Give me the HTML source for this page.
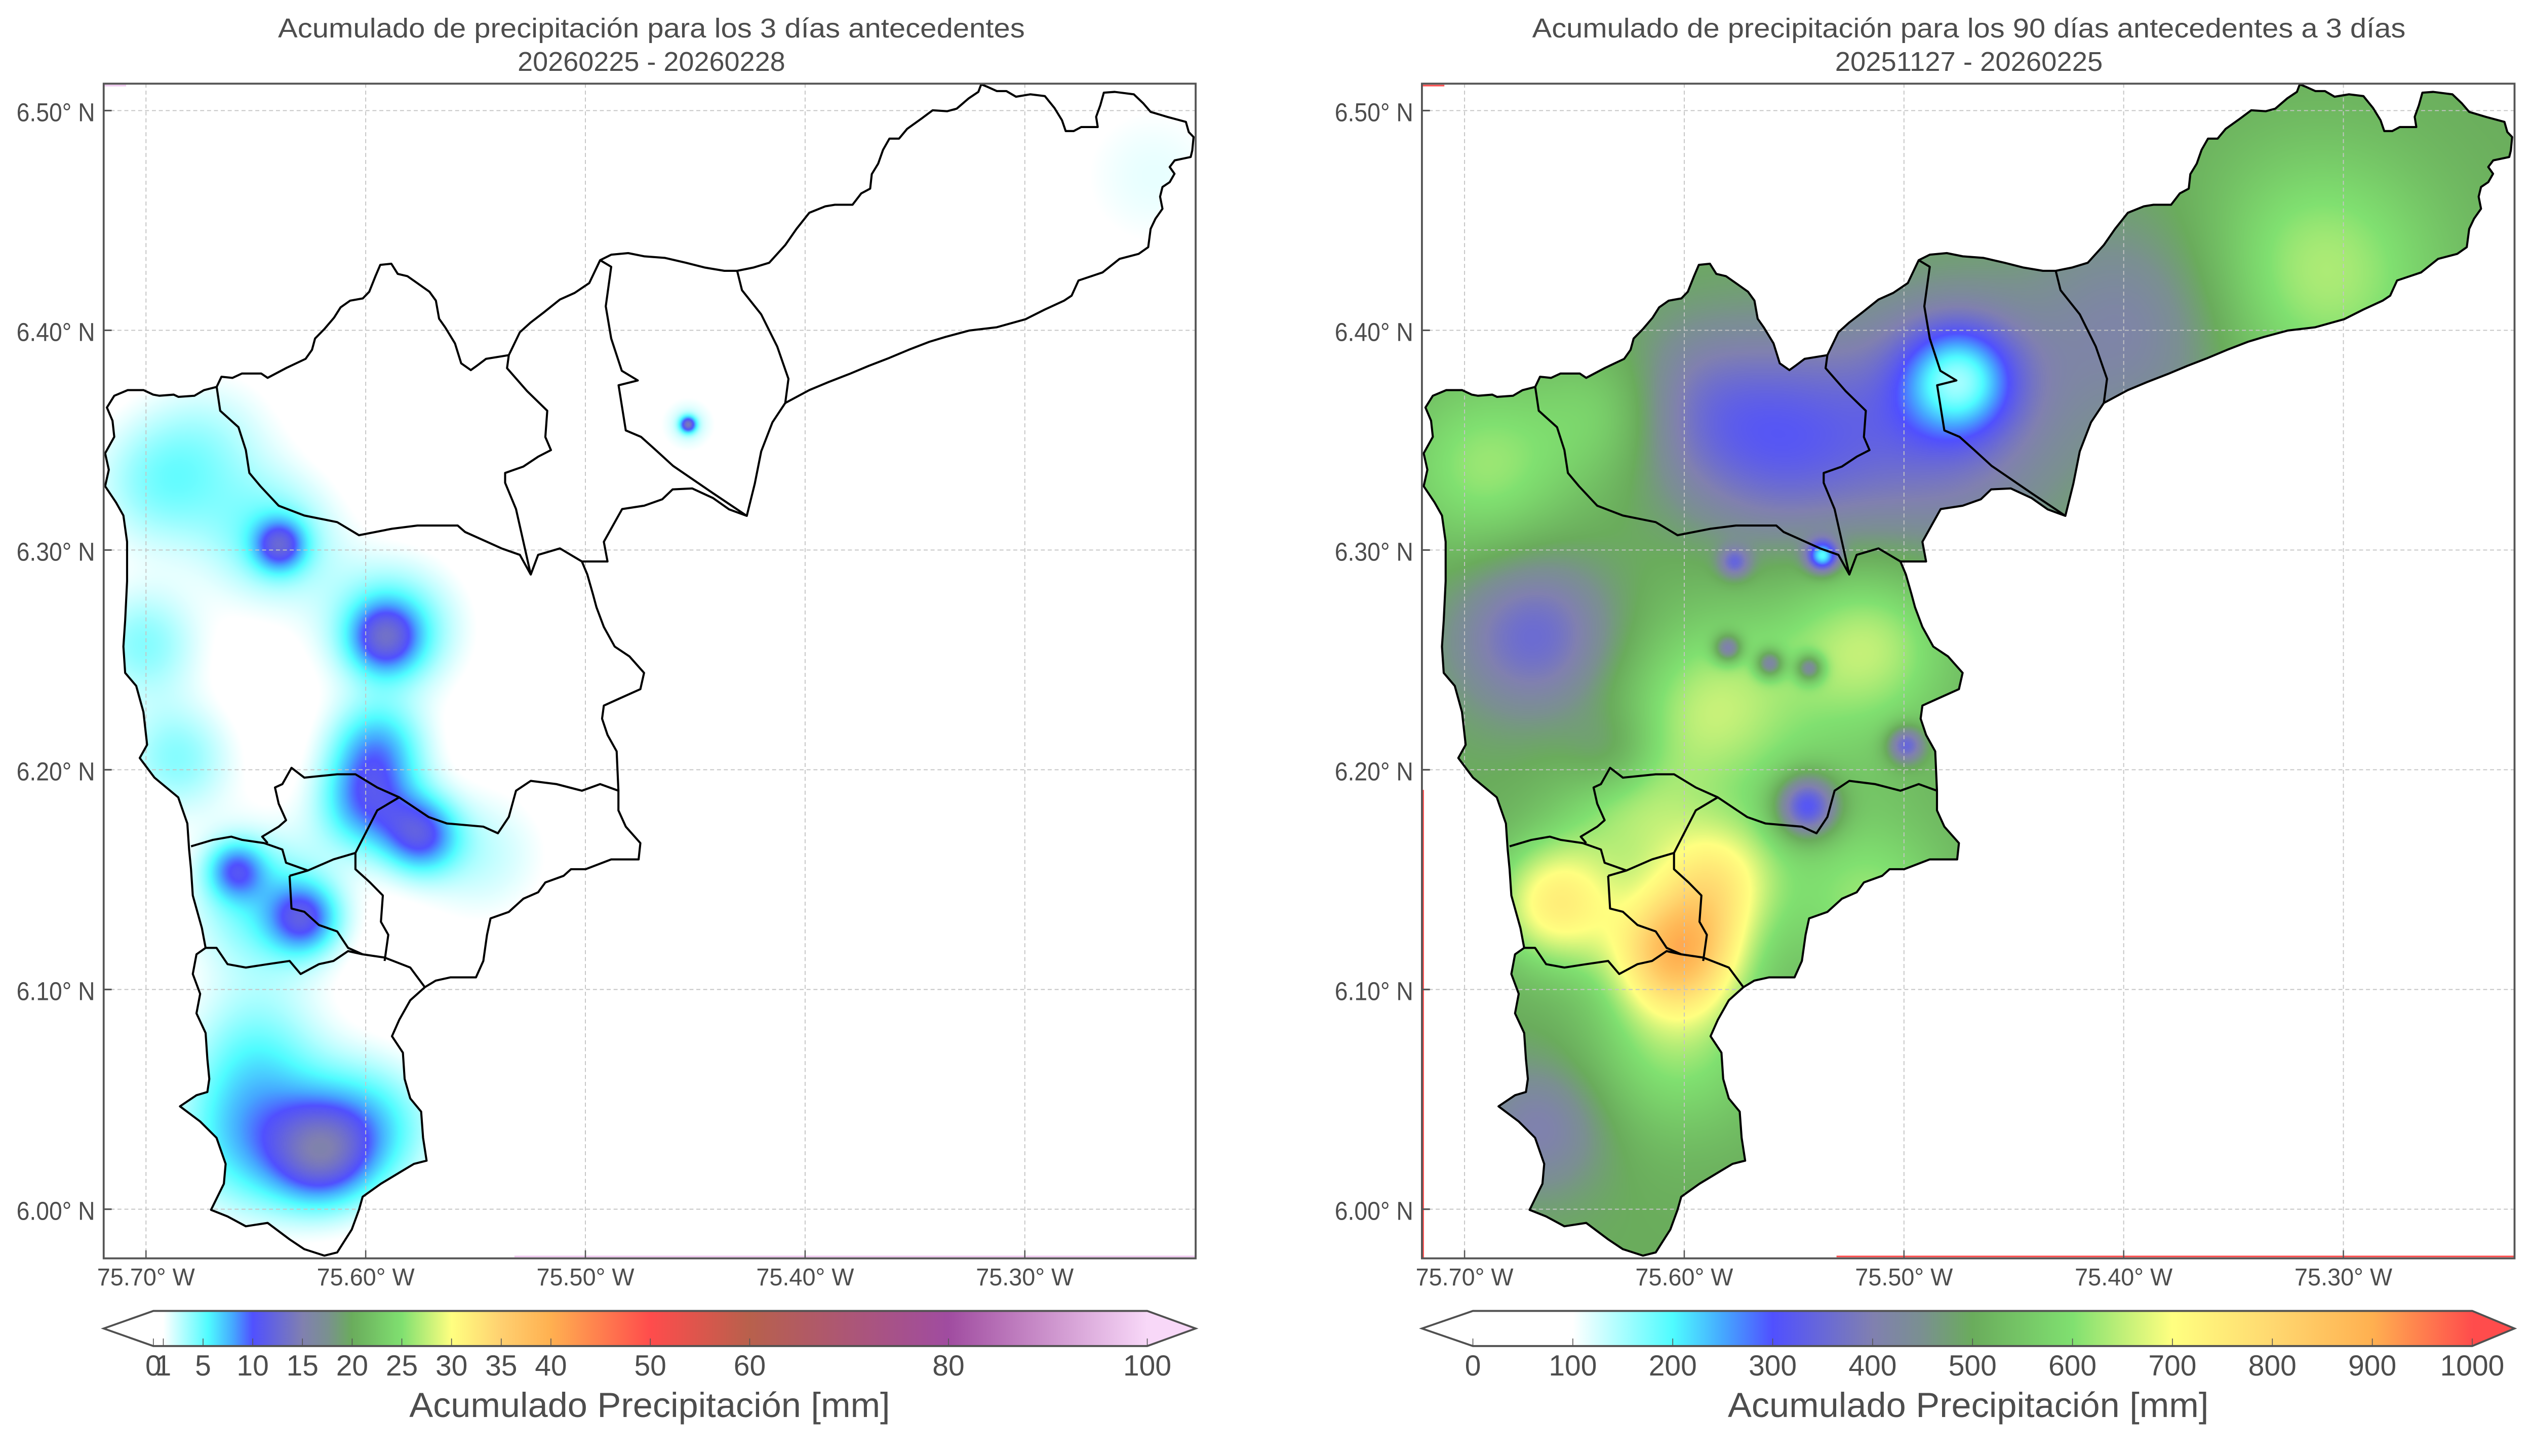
<!DOCTYPE html>
<html><head><meta charset="utf-8">
<style>
html,body{margin:0;padding:0;background:#fff}
#fig{position:relative;width:5044px;height:2876px;background:#fff;overflow:hidden}
#cv,#sv{position:absolute;left:0;top:0}
text{font-family:"Liberation Sans",sans-serif;fill:#4d4d4d}
</style></head>
<body>
<div id="fig">
<canvas id="cv" width="5044" height="2876"></canvas>
<svg id="sv" width="5044" height="2876" viewBox="0 0 1593.9 903.2" preserveAspectRatio="none">
<text x="406.5" y="23.3" font-size="17" text-anchor="middle" textLength="466" lengthAdjust="spacingAndGlyphs">Acumulado de precipitación para los 3 días antecedentes</text>
<text x="406.5" y="44" font-size="17" text-anchor="middle" textLength="167" lengthAdjust="spacingAndGlyphs">20260225 - 20260228</text>
<text x="1228.6" y="23.3" font-size="17" text-anchor="middle" textLength="545" lengthAdjust="spacingAndGlyphs">Acumulado de precipitación para los 90 días antecedentes a 3 días</text>
<text x="1228.6" y="44" font-size="17" text-anchor="middle" textLength="167" lengthAdjust="spacingAndGlyphs">20251127 - 20260225</text>
<g id="layer"></g>
</svg>
</div>
<script>
// ---------- data ----------
const lonTicks = [75.70, 75.60, 75.50, 75.40, 75.30];
const latTicks = [6.00, 6.10, 6.20, 6.30, 6.40, 6.50];

// 3-day accumulation blobs (lon W, lat N, mm peak, sigma deg)
const rain3Lon = [75.241, 75.453, 75.453, 75.693, 75.701, 75.686, 75.639, 75.642, 75.591, 75.588, 75.595, 75.599, 75.575, 75.659, 75.628, 75.646, 75.620, 75.650, 75.599, 75.650, 75.548, 75.668];
const rain3Lat = [6.470, 6.357, 6.357, 6.330, 6.257, 6.205, 6.302, 6.305, 6.260, 6.264, 6.209, 6.184, 6.170, 6.154, 6.132, 6.139, 6.024, 6.033, 6.037, 6.073, 6.161, 6.352];
const rain3Amp = [1.6, 12, 2.5, 4, 4, 4, 8, 4.5, 8, 5.5, 7, 8, 9, 7, 8, 5, 9, 7, 6, 3.5, 2.5, 2];
const rain3Sig = [0.030, 0.0025, 0.009, 0.022, 0.018, 0.018, 0.008, 0.021, 0.011, 0.021, 0.015, 0.015, 0.012, 0.009, 0.011, 0.023, 0.016, 0.024, 0.021, 0.022, 0.022, 0.022];
const rain3Base = 0;

// 90-day accumulation blobs (lon W, lat N, mm anomaly, sigma deg)
const rain90Lon = [75.475, 75.486, 75.559, 75.603, 75.391, 75.537, 75.577, 75.580, 75.561, 75.543, 75.499, 75.544, 75.668, 75.632, 75.311, 75.690, 75.632, 75.515, 75.588, 75.603, 75.658, 75.585, 75.625, 75.515, 75.603, 75.665, 75.560];
const rain90Lat = [6.378, 6.356, 6.349, 6.367, 6.403, 6.297, 6.294, 6.255, 6.248, 6.246, 6.211, 6.183, 6.261, 6.206, 6.426, 6.338, 6.363, 6.257, 6.227, 6.117, 6.139, 6.150, 6.183, 6.139, 6.073, 6.037, 6.230];
const rain90Amp = [-230, -130, -150, -80, -90, -300, -150, -200, -200, -200, -200, -250, -150, -80, 140, 120, 90, 120, 100, 330, 230, 190, 110, 110, 110, -100, 60];
const rain90Sig = [0.018, 0.040, 0.033, 0.026, 0.036, 0.005, 0.005, 0.0045, 0.0045, 0.0045, 0.006, 0.010, 0.026, 0.015, 0.040, 0.029, 0.022, 0.026, 0.026, 0.020, 0.020, 0.020, 0.022, 0.026, 0.029, 0.022, 0.050];
const rain90Base = 500;

// colour bars
const cbar1Ticks = [0, 1, 5, 10, 15, 20, 25, 30, 35, 40, 50, 60, 80, 100];
const cbar1Labels = ["0", "1", "5", "10", "15", "20", "25", "30", "35", "40", "50", "60", "80", "100"];
const cbar2Ticks = [0, 100, 200, 300, 400, 500, 600, 700, 800, 900, 1000];
const cbar2Labels = ["0", "100", "200", "300", "400", "500", "600", "700", "800", "900", "1000"];
const cmap1Vals = [0, 1, 5.5, 8, 10, 15, 17.5, 20, 25, 30, 35, 40, 50, 60, 80, 100];
const cmap1Cols = ["#ffffff", "#ffffff", "#4ffcff", "#45a8ff", "#5050ff", "#8080b0", "#7a9090", "#6aac5c", "#80e070", "#ffff80", "#ffd070", "#ffb050", "#ff4c4c", "#b8604c", "#a04ca0", "#f8d8f8"];
const cmap2Vals = [0, 100, 200, 250, 300, 400, 450, 500, 600, 700, 800, 900, 1000];
const cmap2Cols = ["#ffffff", "#ffffff", "#4ffcff", "#45a8ff", "#5050ff", "#8080b0", "#7a9090", "#6aac5c", "#80e070", "#ffff80", "#ffd870", "#ffb050", "#ff4c4c"];

// ---------- geometry (basemap outline, left-panel display units) ----------
const outerPts = [[71.3,245.5],[79.7,242],[89.6,242],[95.6,244.8],[99.5,245.5],[108.4,244.8],[111.4,246.2],[121.3,245.5],[127.3,242],[135.2,240],[138.2,233.7],[145.1,234.4],[151,231.7],[163,231.7],[167,234.4],[178.8,228.2],[190.7,222.6],[194.7,217],[196.6,210],[202.6,203.9],[208.5,197],[212.5,190.7],[218.5,186.5],[226.4,185.1],[230.4,181],[234.3,171.3],[237.3,164.3],[244.2,163.6],[248.2,169.9],[254.2,171.3],[260.1,175.4],[268,181],[272,186.5],[274,197.7],[277.9,203.2],[283.9,213],[287.8,225.4],[293.8,229.6],[297.7,226.8],[303.3,222.6],[317.5,220.3],[324.4,206.1],[331.2,200],[339.2,193.9],[349.4,185.8],[358.6,181.7],[367.7,175.6],[374.5,161.4],[381.4,158],[392,157],[402,159],[415,160],[428,163],[440,166],[452,168],[460,168],[470,166],[480,163],[490,152],[497,142],[505,132],[515,128],[521,127],[532,127],[537.4,120],[543,117],[544,108],[548,101.5],[551,93],[555,86],[561,86],[566,80],[575,73.6],[582,68.4],[591,69],[597,67.4],[604.5,61],[610.5,57],[612.3,52.3],[616.5,54],[622,56.5],[628,56.5],[634,60],[643,58.5],[652,59.6],[658,67],[662.7,74.6],[665,81.3],[670,81.3],[674.7,78.8],[685,78.8],[684,72.5],[686.6,65.3],[688.8,57.5],[695.6,57],[707.5,58.5],[713.5,64.2],[718,69.4],[728.4,72.5],[740,75.6],[741.8,81.9],[744.8,85],[744,93.3],[743,97.4],[733,99.5],[729.9,103.6],[732.9,107.8],[729.9,113],[725.4,116],[723.9,122],[725.4,129.5],[721,135.7],[718,142],[716.5,153.3],[710.5,157.5],[698.6,160.6],[688,169],[679,172],[673,174],[668.7,183.4],[664,186.5],[652,192],[640,198],[622,203],[605,205],[590,209],[580,212],[567,217],[555,222],[542,227],[530,232],[517,237],[505,242],[490,250],[482,262],[475,280],[471,300],[466,320],[455,316],[445,309],[432,303],[419.7,303.6],[413.3,309.7],[401.9,313.7],[388.2,315.8],[376.8,336.1],[379.1,348.3],[363.1,348.3],[366.5,356.4],[370,368.6],[372.2,376.7],[376.8,388.9],[383.6,401.1],[392.8,407.2],[401.9,417.4],[399.6,427.5],[385.9,433.6],[376.8,437.7],[375.7,445.8],[379.1,455.9],[384.8,466.1],[385.9,490.5],[385.9,502.7],[390.5,512.8],[399.6,523],[398.5,533.1],[381.4,533.1],[365.4,539.2],[356.3,539.2],[351.7,543.3],[340.3,547.4],[335.8,553.5],[326.6,557.5],[317.5,565.7],[306.1,569.7],[303.9,579.9],[301.6,596.1],[297,606.3],[281,606.3],[271.9,608.3],[265.1,612.4],[256,620.5],[249.1,632.7],[244.6,642.8],[251.4,653],[252.5,669.3],[256,681.4],[262.8,689.6],[264,705.8],[266.2,720],[258.3,722],[251.4,726.1],[237.7,734.3],[226.3,742.4],[224,750.5],[219.5,762.7],[210.4,776.9],[202.4,778.9],[189.9,774.9],[180.7,768.8],[167,758.6],[153.4,760.7],[142,754.6],[131.7,750.5],[139.7,734.3],[140.8,722],[135.1,705.8],[124.9,695.7],[112.3,686.3],[122.6,679.4],[129.4,677.4],[130.6,669.3],[129.4,657],[128.3,640.8],[122.6,628.6],[124.9,616.5],[120.3,604.2],[122.6,592],[128.3,588],[126,575.8],[120.3,555.5],[119.2,539.2],[118,527],[116.9,510.8],[111.2,494.6],[96.4,482.4],[87.2,470.2],[91.8,462],[89.5,441.7],[85,425.5],[78.1,417.4],[77,401.1],[78.1,384.9],[79.3,360.5],[79.3,336.1],[77,319.8],[72.4,311.7],[65.6,301.6],[67.9,291.4],[65.6,281.2],[71.3,271],[70.2,261],[66.7,252.8]];
const innerLines = [
 [[135.2,240],[137.4,254.8],[148.8,265],[153.4,279.2],[155.6,293.4],[162.5,301.6],[173.9,313.7],[189.9,319.8],[210.4,323.9],[224,332],[244.6,328],[260.5,326],[285.6,326],[290.2,330],[303.9,336.1],[313,340.2],[324.4,344.2],[331.2,356.4],[335.8,344.2],[349.4,340.2],[363.1,348.3]],
 [[317.5,220.3],[316.4,228.4],[328.9,242.6],[341.5,254.8],[340.3,271.1],[343.8,279.2],[335.8,283.3],[326.6,289.4],[315.2,293.4],[315.2,299.5],[322,315.8],[326.6,336.1],[331.2,356.4]],
 [[374.5,161.4],[381.4,165.5],[378,190],[381.4,210],[388,230],[398,236],[386,239],[390.5,267],[400,271],[409,279],[420,289],[445,306],[466,320]],
 [[460,168],[463,180],[475,195],[485,215],[492,235],[490,250]],
 [[385.9,490.5],[374.5,486.4],[363.1,490.5],[347.2,486.4],[331.2,484.4],[322,490.5],[317.5,506.8],[310.7,516.9],[301.6,512.8],[278.8,510.8],[267.4,506.8],[249.1,494.6],[235.4,488.5],[221.8,480.3],[210.4,480.3],[189.9,482.4],[181.9,476.3],[176.2,486.4],[171.6,488.5],[173.9,498.6],[178.5,508.8],[173.9,512.8],[163.6,519],[167,523]],
 [[119.2,525],[132.8,521],[144.3,519],[151.1,521],[164.8,523],[176.2,527],[178.5,535.2],[192.1,540],[208.1,533.1],[221.8,529.1],[235.4,502.7],[249.1,494.6]],
 [[180.7,543.3],[181.9,563.6],[189.9,565.6],[199,573.8],[210.4,577.8],[217.2,588],[226.3,592],[240,594],[256,600.2],[265.1,612.4]],
 [[180.7,543.3],[192.1,540]],
 [[221.8,529.1],[221.8,539.2],[230.9,547.4],[238.9,555.5],[237.7,571.8],[242.3,579.9],[240,596.1]],
 [[128.3,588],[135.1,588],[142,598.1],[153.4,600.2],[167,598.1],[180.7,596.1],[187.6,604.2],[199,598.1],[208.1,596.1],[217.2,590],[226.3,592]]
];

// ---------- layout ----------
const VBW = 1593.9, VBH = 903.2;
const SX = 5044 / VBW, SY = 2876 / VBH;
const panels = [
 {name:'left', x0:64.7, x1:746.1, y0:51.9, y1:780.6, lon0:91.1, off:0,
  lon:rain3Lon, lat:rain3Lat, amp:rain3Amp, sig:rain3Sig, base:rain3Base,
  cv:cmap1Vals, cc:cmap1Cols, ticks:cbar1Ticks, labels:cbar1Labels, vmin:0, vmax:100,
  cbx0:95.7, cbx1:715.9, under:'#ffffff', over:'#f8d8f8', artifact:'#f0c8f0', art0:321},
 {name:'right', x0:887.3, x1:1569.1, y0:51.9, y1:780.6, lon0:913.9, off:822.8,
  lon:rain90Lon, lat:rain90Lat, amp:rain90Amp, sig:rain90Sig, base:rain90Base,
  cv:cmap2Vals, cc:cmap2Cols, ticks:cbar2Ticks, labels:cbar2Labels, vmin:0, vmax:1000,
  cbx0:919.1, cbx1:1542.7, under:'#ffffff', over:'#ff4c4c', artifact:'#ff4c4c', art0:1146}
];
const PX_PER_DEG_X = 1371, PX_PER_DEG_Y = 1363;
function xScale(p, lonW){ return p.lon0 + (75.70 - lonW) * PX_PER_DEG_X; }
function yScale(lat){ return 68.6 + (6.50 - lat) * PX_PER_DEG_Y; }
function xInv(p, x){ return 75.70 - (x - p.lon0) / PX_PER_DEG_X; }
function yInv(y){ return 6.50 - (y - 68.6) / PX_PER_DEG_Y; }
function cbScale(p, v){ return p.cbx0 + (v - p.vmin) / (p.vmax - p.vmin) * (p.cbx1 - p.cbx0); }

function hex(c){ return [parseInt(c.substr(1,2),16), parseInt(c.substr(3,2),16), parseInt(c.substr(5,2),16)]; }
function cmap(v, vals, cols){
  if (v <= vals[0]) return hex(cols[0]);
  for (let i = 1; i < vals.length; i++){
    if (v <= vals[i]){
      const t = (v - vals[i-1]) / (vals[i] - vals[i-1]);
      const a = hex(cols[i-1]), b = hex(cols[i]);
      return [a[0]+(b[0]-a[0])*t, a[1]+(b[1]-a[1])*t, a[2]+(b[2]-a[2])*t];
    }
  }
  return hex(cols[cols.length-1]);
}

// ---------- canvas field ----------
const cv = document.getElementById('cv');
const ctx = cv.getContext('2d');
ctx.fillStyle = '#fff'; ctx.fillRect(0,0,5044,2876);
const RES = 1.5;
panels.forEach(p => {
  const w = Math.ceil((p.x1 - p.x0) * RES), h = Math.ceil((p.y1 - p.y0) * RES);
  const off = document.createElement('canvas'); off.width = w; off.height = h;
  const octx = off.getContext('2d');
  const img = octx.createImageData(w, h);
  const n = p.lon.length;
  const inv2s = p.sig.map(s => 1 / (2 * s * s));
  for (let j = 0; j < h; j++){
    const lat = yInv(p.y0 + (j + 0.5) / RES);
    for (let i = 0; i < w; i++){
      const lon = xInv(p, p.x0 + (i + 0.5) / RES);
      let v = p.base;
      for (let k = 0; k < n; k++){
        const dx = lon - p.lon[k], dy = lat - p.lat[k];
        const d2 = (dx*dx + dy*dy) * inv2s[k];
        if (d2 < 12) v += p.amp[k] * Math.exp(-d2);
      }
      const c = cmap(v, p.cv, p.cc);
      const o = (j * w + i) * 4;
      img.data[o] = c[0]; img.data[o+1] = c[1]; img.data[o+2] = c[2]; img.data[o+3] = 255;
    }
  }
  octx.putImageData(img, 0, 0);
  ctx.save();
  ctx.setTransform(SX, 0, 0, SY, 0, 0);
  ctx.beginPath();
  outerPts.forEach((pt, i) => { const x = pt[0] + p.off, y = pt[1]; if (i) ctx.lineTo(x, y); else ctx.moveTo(x, y); });
  ctx.closePath();
  ctx.clip();
  ctx.imageSmoothingEnabled = true; ctx.imageSmoothingQuality = 'high';
  ctx.drawImage(off, p.x0, p.y0, p.x1 - p.x0, p.y1 - p.y0);
  ctx.restore();
});

// ---------- svg ----------
const NS = 'http://www.w3.org/2000/svg';
const layer = document.getElementById('layer');
function mk(tag, attrs, parent){
  const e = document.createElementNS(NS, tag);
  for (const k in attrs) e.setAttribute(k, attrs[k]);
  (parent || layer).appendChild(e);
  return e;
}
const defs = mk('defs', {});



function ptsStr(arr){ return arr.map(q => q[0].toFixed(1) + ',' + q[1].toFixed(1)).join(' '); }

panels.forEach(p => {
  const g = mk('g', {});
  
  

  lonTicks.forEach(t => {
    const x = xScale(p, t);
    const ln = mk('line', {x1:x, x2:x, y1:p.y0, y2:p.y1, stroke:'#c4c4c4', 'stroke-width':0.6, 'stroke-dasharray':'2.5,1.8'}, g);
    
    
  });
  latTicks.forEach(t => {
    const y = yScale(t);
    const ln = mk('line', {x1:p.x0, x2:p.x1, y1:y, y2:y, stroke:'#c4c4c4', 'stroke-width':0.6, 'stroke-dasharray':'2.5,1.8'}, g);
    
    
  });

  const bg = mk('g', {transform:'translate(' + p.off + ',0)', fill:'none', stroke:'#000', 'stroke-width':1.3, 'stroke-linejoin':'round'}, g);
  
  
  const outer = mk('polygon', {points: ptsStr(outerPts)}, bg);
  
  
  innerLines.forEach(l => {
    const pl = mk('polyline', {points: ptsStr(l)}, bg);
    
    
  });

  const a1 = mk('line', {x1: p.art0, x2: p.x1, y1: p.y1 - 1.2, y2: p.y1 - 1.2, stroke: p.artifact, 'stroke-width':1}, g);
  
  
  const a2 = mk('line', {x1: p.x0, x2: p.x0 + 14, y1: p.y0 + 1.2, y2: p.y0 + 1.2, stroke: p.artifact, 'stroke-width':1}, g);
  
  
  if (p.name === 'right'){
    const a3 = mk('line', {x1: p.x0 + 0.8, x2: p.x0 + 0.8, y1: 490, y2: p.y1, stroke: p.artifact, 'stroke-width':0.9}, g);
    
    
  }

  const fr = mk('rect', {x:p.x0, y:p.y0, width:p.x1-p.x0, height:p.y1-p.y0, fill:'none', stroke:'#555', 'stroke-width':1.2}, g);
  
  

  lonTicks.forEach(t => {
    const x = xScale(p, t);
    const tk = mk('line', {x1:x, x2:x, y1:p.y1, y2:p.y1 - 5, stroke:'#555', 'stroke-width':0.8}, g);
    
    
    const tx = mk('text', {x:x, y:797.3, 'font-size':15, 'text-anchor':'middle', textLength:61, lengthAdjust:'spacingAndGlyphs'}, g);
    tx.textContent = t.toFixed(2) + '° W';
    
    
  });
  latTicks.forEach(t => {
    const y = yScale(t);
    const tk = mk('line', {x1:p.x0, x2:p.x0 + 5, y1:y, y2:y, stroke:'#555', 'stroke-width':1}, g);
    
    
    const tx = mk('text', {x:p.x0 - 5.4, y:y + 6.6, 'font-size':16, 'text-anchor':'end', textLength:49, lengthAdjust:'spacingAndGlyphs'}, g);
    tx.textContent = t.toFixed(2) + '° N';
    
    
  });

  const cb = mk('g', {}, g);
  
  
  const gid = 'grad-' + p.name;
  const grad = mk('linearGradient', {id:gid, x1:p.cbx0, x2:p.cbx1, y1:0, y2:0, gradientUnits:'userSpaceOnUse'}, defs);
  
  
  p.cv.forEach((v, i) => {
    const st = mk('stop', {offset: ((v - p.vmin) / (p.vmax - p.vmin)).toFixed(4), 'stop-color': p.cc[i]}, grad);
    
    
  });
  const cy0 = 813.2, cy1 = 835, cym = (cy0 + cy1) / 2;
  const ul = mk('polygon', {points: p.x0 + ',' + cym + ' ' + p.cbx0 + ',' + cy0 + ' ' + p.cbx0 + ',' + cy1, fill:p.under}, cb);
  
  
  const ov = mk('polygon', {points: p.x1 + ',' + cym + ' ' + p.cbx1 + ',' + cy0 + ' ' + p.cbx1 + ',' + cy1, fill:p.over}, cb);
  
  
  const body = mk('rect', {x:p.cbx0, y:cy0, width:p.cbx1 - p.cbx0, height:cy1 - cy0, fill:'url(#' + gid + ')'}, cb);
  
  
  p.ticks.forEach((v, i) => {
    const x = cbScale(p, v);
    const tk = mk('line', {x1:x, x2:x, y1:cy1, y2:cy1 - 4.7, stroke:'#555', 'stroke-width':0.5}, cb);
    
    
    const tx = mk('text', {x:x, y:853.3, 'font-size':18, 'text-anchor':'middle'}, cb);
    tx.textContent = p.labels[i];
    
    
  });
  const outline = mk('polygon', {points: p.x0 + ',' + cym + ' ' + p.cbx0 + ',' + cy0 + ' ' + p.cbx1 + ',' + cy0 + ' ' + p.x1 + ',' + cym + ' ' + p.cbx1 + ',' + cy1 + ' ' + p.cbx0 + ',' + cy1, fill:'none', stroke:'#505050', 'stroke-width':1.2}, cb);
  
  
  const lab = mk('text', {x:(p.x0 + p.x1) / 2, y:879, 'font-size':21.5, 'text-anchor':'middle', textLength:300, lengthAdjust:'spacingAndGlyphs'}, cb);
  lab.textContent = 'Acumulado Precipitación [mm]';
  
  
});
</script>
</body></html>
